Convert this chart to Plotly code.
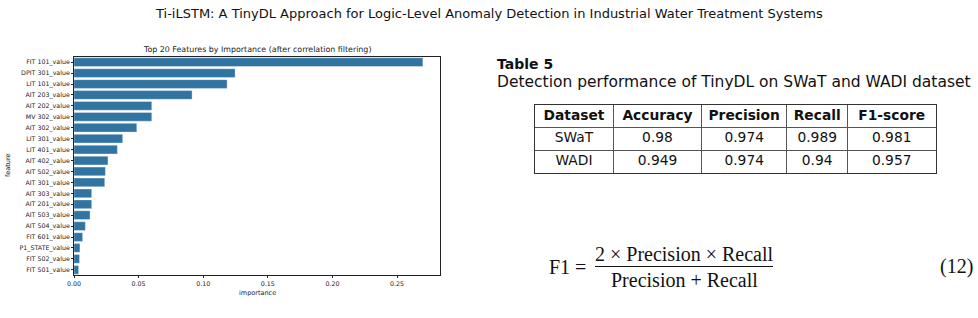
import plotly.graph_objects as go

W, H = 978, 318

features = ["FIT 101_value", "DPIT 301_value", "LIT 101_value", "AIT 203_value", "AIT 202_value",
            "MV 302_value", "AIT 302_value", "LIT 301_value", "LIT 401_value", "AIT 402_value",
            "AIT 502_value", "AIT 301_value", "AIT 303_value", "AIT 201_value", "AIT 503_value",
            "AIT 504_value", "FIT 601_value", "P1_STATE_value", "FIT 502_value", "FIT 501_value"]
importance = [0.270, 0.1247, 0.1185, 0.0914, 0.0602, 0.0602, 0.0486, 0.0377, 0.0336, 0.0263,
              0.0243, 0.0238, 0.0137, 0.0137, 0.0124, 0.0088, 0.0067, 0.0046, 0.0043, 0.0036]
x_ticks = [0.0, 0.05, 0.10, 0.15, 0.20, 0.25]

table_header = ["Dataset", "Accuracy", "Precision", "Recall", "F1-score"]
datasets = ["SWaT", "WADI"]
accuracy = ["0.98", "0.949"]
precision = ["0.974", "0.974"]
recall = ["0.989", "0.94"]
f1 = ["0.981", "0.957"]


def px(x):
    return x / W


def py(y):
    return 1 - y / H


fig = go.Figure()

# ---- bar chart ----
fig.add_trace(go.Bar(
    x=importance, y=features, orientation="h",
    marker=dict(color="#3274a1", line=dict(color="rgba(255,255,255,0.6)", width=0.6)),
    xaxis="x", yaxis="y", showlegend=False, hoverinfo="x+y",
))

# ---- table built on its own axes ----
col_w = [78.6, 88.4, 85.0, 61.0, 88.0]
bounds = [0.0]
for w in col_w:
    bounds.append(bounds[-1] + w)
centers = [(bounds[i] + bounds[i + 1]) / 2 for i in range(len(col_w))]
columns = [datasets, accuracy, precision, recall, f1]

tx, ty, tt = [], [], []
for ci, head in enumerate(table_header):
    tx.append(centers[ci]); ty.append(0.5); tt.append("<b>%s</b>" % head)
    for ri, val in enumerate(columns[ci]):
        tx.append(centers[ci]); ty.append(ri + 1.5); tt.append(val)

fig.add_trace(go.Scatter(
    x=tx, y=ty, text=tt, mode="text", xaxis="x2", yaxis="y2", showlegend=False,
    textposition="middle center", hoverinfo="skip",
    textfont=dict(family="DejaVu Sans", size=13.8, color="#111"),
))

tick_font = dict(family="DejaVu Sans", size=6.3, color="#222")

fig.update_layout(
    width=W, height=H, margin=dict(l=0, r=0, t=0, b=0),
    paper_bgcolor="white", plot_bgcolor="white",
    bargap=0.2,
    xaxis=dict(domain=[px(74), px(440.3)], range=[0, 0.2835], automargin=False,
               tickvals=x_ticks, ticktext=["%.2f" % v for v in x_ticks],
               ticks="outside", ticklen=2, tickwidth=0.8, tickcolor="#222",
               showline=True, linecolor="#222", linewidth=0.8, mirror=True,
               showgrid=False, zeroline=False, tickfont=tick_font, anchor="y"),
    yaxis=dict(domain=[py(275.3), py(56.7)], range=[19.5, -0.5], automargin=False,
               type="category",
               ticks="outside", ticklen=2, tickwidth=0.8, tickcolor="#222",
               showline=True, linecolor="#222", linewidth=0.8, mirror=True,
               showgrid=False, zeroline=False, tickfont=tick_font, anchor="x"),
    xaxis2=dict(domain=[px(534.7), px(935.7)], range=[0, bounds[-1]], automargin=False,
                tickvals=bounds[1:-1], showticklabels=False, ticks="",
                showgrid=True, gridcolor="#555", gridwidth=1,
                showline=True, linecolor="#333", linewidth=1.3, mirror=True,
                zeroline=False, anchor="y2", fixedrange=True),
    yaxis2=dict(domain=[py(172.7), py(105)], range=[3, 0], automargin=False,
                tickvals=[1, 2], showticklabels=False, ticks="",
                showgrid=True, gridcolor="#555", gridwidth=1,
                showline=True, linecolor="#333", linewidth=1.3, mirror=True,
                zeroline=False, anchor="x2", fixedrange=True),
)

ann = []
ann.append(dict(text="Ti-iLSTM: A TinyDL Approach for Logic-Level Anomaly Detection in Industrial Water Treatment Systems",
                x=0.5, y=py(14), xref="paper", yref="paper", showarrow=False,
                xanchor="center", yanchor="middle",
                font=dict(family="DejaVu Sans", size=13, color="#111")))
ann.append(dict(text="Top 20 Features by Importance (after correlation filtering)",
                x=px(257), y=py(49.5), xref="paper", yref="paper", showarrow=False,
                xanchor="center", yanchor="middle",
                font=dict(family="DejaVu Sans", size=7.9, color="#222")))
ann.append(dict(text="importance", x=px(257), y=py(293), xref="paper", yref="paper",
                showarrow=False, xanchor="center", yanchor="middle",
                font=dict(family="DejaVu Sans", size=6.5, color="#222")))
ann.append(dict(text="feature", x=px(8), y=py(166), xref="paper", yref="paper",
                showarrow=False, xanchor="center", yanchor="middle", textangle=-90,
                font=dict(family="DejaVu Sans", size=6.5, color="#222")))
ann.append(dict(text="<b>Table 5</b>", x=px(495), y=py(64), xref="paper", yref="paper",
                showarrow=False, xanchor="left", yanchor="middle",
                font=dict(family="DejaVu Sans", size=14, color="#111")))
ann.append(dict(text="Detection performance of TinyDL on SWaT and WADI dataset", x=px(495), y=py(82),
                xref="paper", yref="paper", showarrow=False, xanchor="left", yanchor="middle",
                font=dict(family="DejaVu Sans", size=15.5, color="#111")))

serif = dict(family="Liberation Serif", size=20, color="#111")
ann.append(dict(text="F1 =", x=px(588), y=py(267), xref="paper", yref="paper", showarrow=False,
                xanchor="right", yanchor="middle", font=serif))
ann.append(dict(text="2 × Precision × Recall", x=px(684), y=py(254), xref="paper", yref="paper",
                showarrow=False, xanchor="center", yanchor="middle", font=serif))
ann.append(dict(text="Precision + Recall", x=px(684), y=py(280), xref="paper", yref="paper",
                showarrow=False, xanchor="center", yanchor="middle", font=serif))
ann.append(dict(text="(12)", x=px(975), y=py(266), xref="paper", yref="paper", showarrow=False,
                xanchor="right", yanchor="middle", font=serif))
fig.update_layout(annotations=ann)

fig.add_shape(type="line", xref="paper", yref="paper",
              x0=px(595), x1=px(773), y0=py(266.5), y1=py(266.5),
              line=dict(color="#111", width=1))

fig.write_html("out.html")
